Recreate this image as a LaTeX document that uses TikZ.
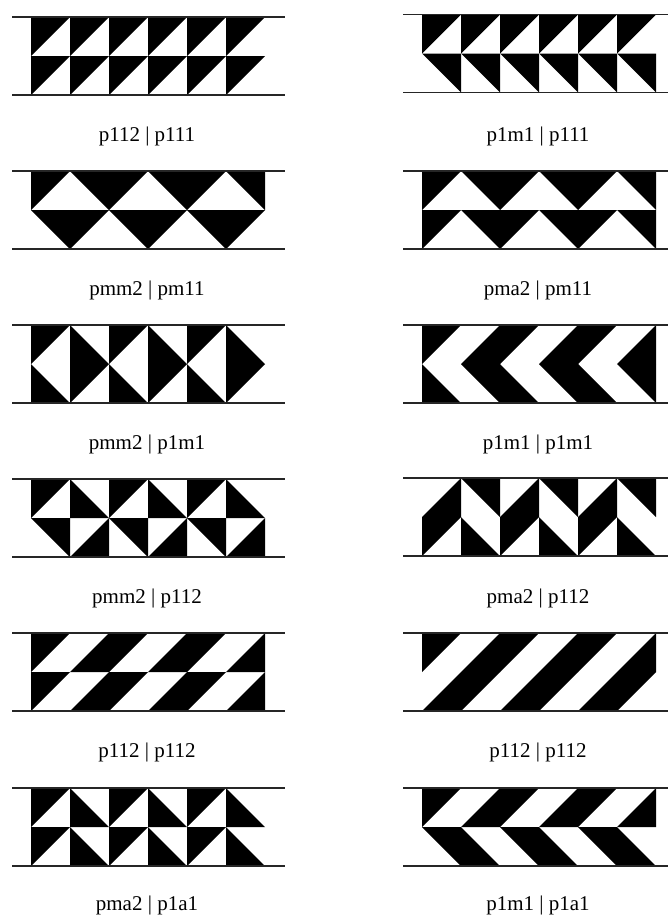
\documentclass[tikz,border=0pt]{standalone}
\usepackage{fontspec}
\setmainfont{Liberation Serif}

% cell side and the four half-cell triangles (cell given by its top-left corner, y downwards)
\newcommand{\cw}{39}
\newcommand{\cellTL}[2]{\fill (#1,#2) -- ++(\cw,0) -- ++(-\cw,\cw) -- cycle;}
\newcommand{\cellTR}[2]{\fill (#1,#2) -- ++(\cw,0) -- ++(0,\cw) -- cycle;}
\newcommand{\cellBL}[2]{\fill (#1,#2) -- ++(0,\cw) -- ++(\cw,0) -- cycle;}
\newcommand{\cellBR}[2]{\fill (#1+\cw,#2) -- ++(0,\cw) -- ++(-\cw,0) -- cycle;}

% #1,#2 ends of the rules, #3 left of the cells, #4 top, #5 top row, #6 bottom row
\newcommand{\frieze}[6]{%
  \foreach \c [count=\i from 0] in {#5} {\csname cell\c\endcsname{#3+\i*\cw}{#4}}
  \foreach \c [count=\i from 0] in {#6} {\csname cell\c\endcsname{#3+\i*\cw}{#4+\cw}}
  \draw[edge] (#1,#4) -- (#2,#4);
  \draw[edge] (#1,#4+2*\cw) -- (#2,#4+2*\cw);
}

\begin{document}
\begin{tikzpicture}[
    x=1pt, y=-1pt,
    edge/.style={line width=1.2pt, black!85},
    lab/.style={font=\fontsize{21}{24}\selectfont, anchor=base, inner sep=0pt}
]
\useasboundingbox (0,0) rectangle (668,916);

% Friezes, left column
\frieze{12}{285}{31}{17}{TL,TL,TL,TL,TL,TL}{TL,TL,TL,TL,TL,TL}
\frieze{12}{285}{31}{171}{TL,TR,TL,TR,TL,TR}{TR,TL,TR,TL,TR,TL}
\frieze{12}{285}{31}{325}{TL,BL,TL,BL,TL,BL}{BL,TL,BL,TL,BL,TL}
\frieze{12}{285}{31}{479}{TL,BL,TL,BL,TL,BL}{TR,BR,TR,BR,TR,BR}
\frieze{12}{285}{31}{633}{TL,BR,TL,BR,TL,BR}{TL,BR,TL,BR,TL,BR}
\frieze{12}{285}{31}{788}{TL,BL,TL,BL,TL,BL}{TL,BL,TL,BL,TL,BL}

% Friezes, right column
\frieze{403}{668}{422}{14.5}{TL,TL,TL,TL,TL,TL}{TR,TR,TR,TR,TR,TR}
\frieze{403}{668}{422}{171}{TL,TR,TL,TR,TL,TR}{TL,TR,TL,TR,TL,TR}
\frieze{403}{668}{422}{325}{TL,BR,TL,BR,TL,BR}{BL,TR,BL,TR,BL,TR}
\frieze{403}{668}{422}{478}{BR,TR,BR,TR,BR,TR}{TL,BL,TL,BL,TL,BL}
\frieze{403}{668}{422}{633}{TL,BR,TL,BR,TL,BR}{BR,TL,BR,TL,BR,TL}
\frieze{403}{668}{422}{788}{TL,BR,TL,BR,TL,BR}{TR,BL,TR,BL,TR,BL}

% Labels
\node[lab] (l1) at (147,141) {p112 | p111};
\node[lab] (l3) at (147,295) {pmm2 | pm11};
\node[lab] (l5) at (147,449) {pmm2 | p1m1};
\node[lab] (l7) at (147,603) {pmm2 | p112};
\node[lab] (l9) at (147,757) {p112 | p112};
\node[lab] (l11) at (147,910) {pma2 | p1a1};

\node[lab] (l2) at (538,141) {p1m1 | p111};
\node[lab] (l4) at (538,295) {pma2 | pm11};
\node[lab] (l6) at (538,449) {p1m1 | p1m1};
\node[lab] (l8) at (538,603) {pma2 | p112};
\node[lab] (l10) at (538,757) {p112 | p112};
\node[lab] (l12) at (538,910) {p1m1 | p1a1};

\end{tikzpicture}
\end{document}
